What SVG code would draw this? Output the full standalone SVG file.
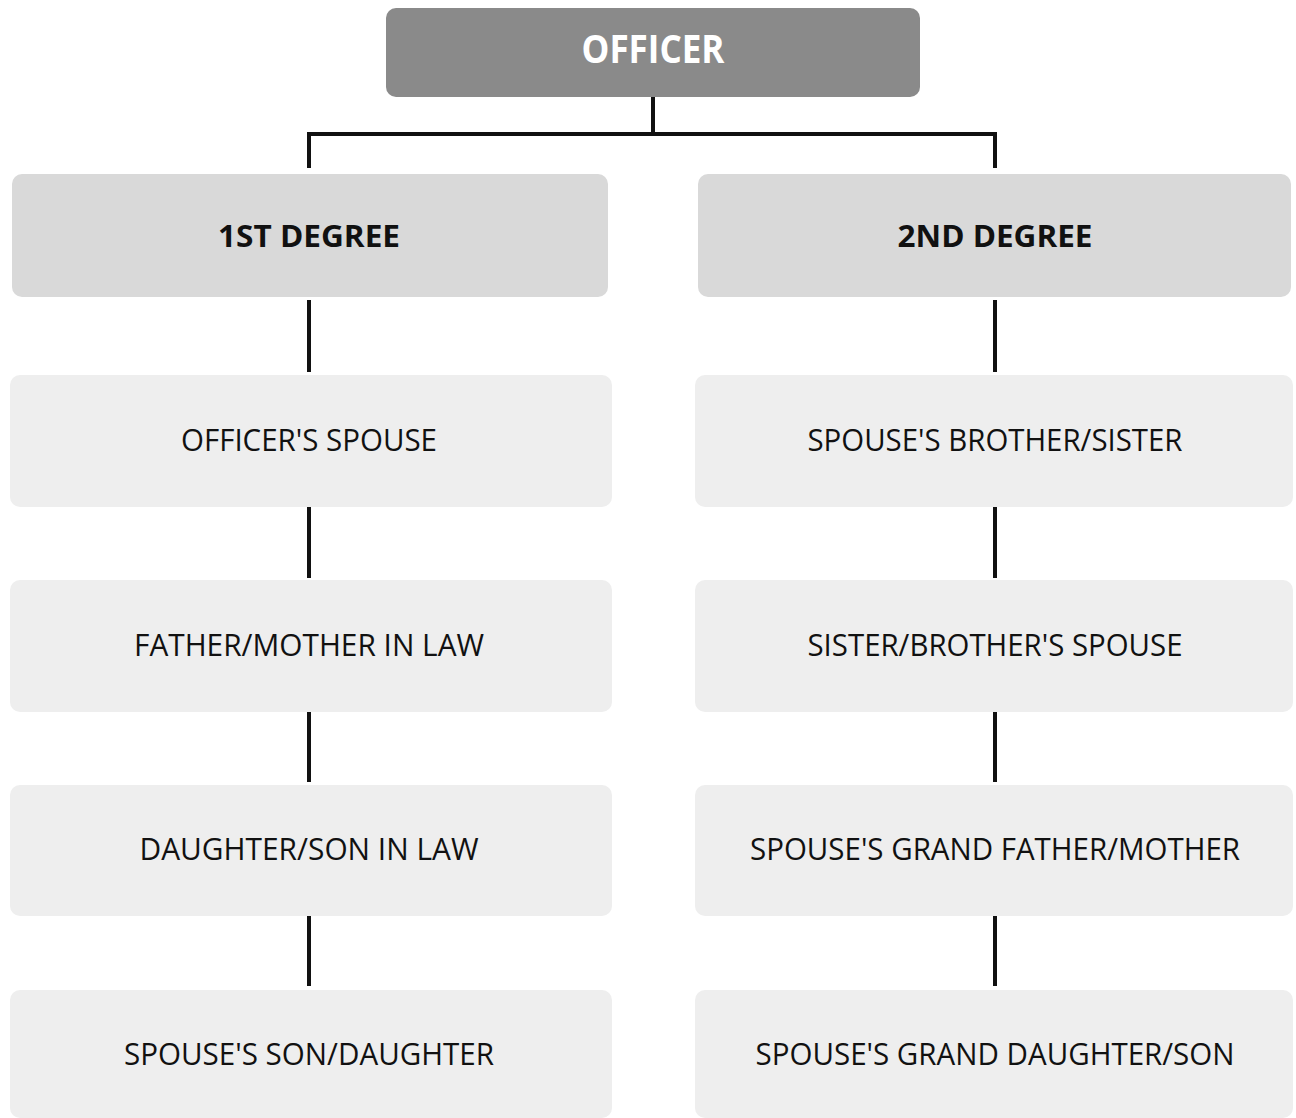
<svg xmlns="http://www.w3.org/2000/svg" width="1296" height="1118" viewBox="0 0 1296 1118">
<style>
.bg{fill:#ffffff}
.top{fill:#8a8a8a}
.deg{fill:#d9d9d9}
.leaf{fill:#eeeeee}
.t{font-family:"Open Sans","Noto Sans","Liberation Sans",sans-serif;text-anchor:middle;fill:#111}
.tt{font-size:40px;font-weight:bold;fill:#ffffff}
.td{font-size:30px;font-weight:bold}
.tl{font-size:31px}
.c{stroke:#111;stroke-width:4;fill:none}
</style>
<rect class="bg" x="0" y="0" width="1296" height="1118"/>
<g id="connectors">
<path class="c" d="M653 97V134M309 134H995M309 132V168M995 132V168"/>
<path class="c" d="M309 300V372M309 507V578M309 710V782M309 915V986"/>
<path class="c" d="M995 300V372M995 507V578M995 710V782M995 915V986"/>
</g>
<g id="officer"><rect class="top" x="386" y="8" width="534" height="89" rx="10"/><text class="t tt" x="653" y="63" textLength="143" lengthAdjust="spacingAndGlyphs">OFFICER</text></g>
<g id="deg1"><rect class="deg" x="12" y="174" width="596" height="123" rx="10"/><text class="t td" x="309" y="247" textLength="182" lengthAdjust="spacingAndGlyphs">1ST DEGREE</text></g>
<g id="deg2"><rect class="deg" x="698" y="174" width="593" height="123" rx="10"/><text class="t td" x="995" y="247" textLength="195" lengthAdjust="spacingAndGlyphs">2ND DEGREE</text></g>
<g id="l1"><rect class="leaf" x="10" y="375" width="602" height="132" rx="10"/><text class="t tl" x="309" y="451" textLength="256" lengthAdjust="spacingAndGlyphs">OFFICER'S SPOUSE</text></g>
<g id="l2"><rect class="leaf" x="10" y="580" width="602" height="132" rx="10"/><text class="t tl" x="309" y="656" textLength="350" lengthAdjust="spacingAndGlyphs">FATHER/MOTHER IN LAW</text></g>
<g id="l3"><rect class="leaf" x="10" y="785" width="602" height="131" rx="10"/><text class="t tl" x="309" y="860" textLength="339" lengthAdjust="spacingAndGlyphs">DAUGHTER/SON IN LAW</text></g>
<g id="l4"><rect class="leaf" x="10" y="990" width="602" height="128" rx="10"/><text class="t tl" x="309" y="1065" textLength="370" lengthAdjust="spacingAndGlyphs">SPOUSE'S SON/DAUGHTER</text></g>
<g id="r1"><rect class="leaf" x="695" y="375" width="598" height="132" rx="10"/><text class="t tl" x="995" y="451" textLength="375" lengthAdjust="spacingAndGlyphs">SPOUSE'S BROTHER/SISTER</text></g>
<g id="r2"><rect class="leaf" x="695" y="580" width="598" height="132" rx="10"/><text class="t tl" x="995" y="656" textLength="375" lengthAdjust="spacingAndGlyphs">SISTER/BROTHER'S SPOUSE</text></g>
<g id="r3"><rect class="leaf" x="695" y="785" width="598" height="131" rx="10"/><text class="t tl" x="995" y="860" textLength="490" lengthAdjust="spacingAndGlyphs">SPOUSE'S GRAND FATHER/MOTHER</text></g>
<g id="r4"><rect class="leaf" x="695" y="990" width="598" height="128" rx="10"/><text class="t tl" x="995" y="1065" textLength="479" lengthAdjust="spacingAndGlyphs">SPOUSE'S GRAND DAUGHTER/SON</text></g>
</svg>
